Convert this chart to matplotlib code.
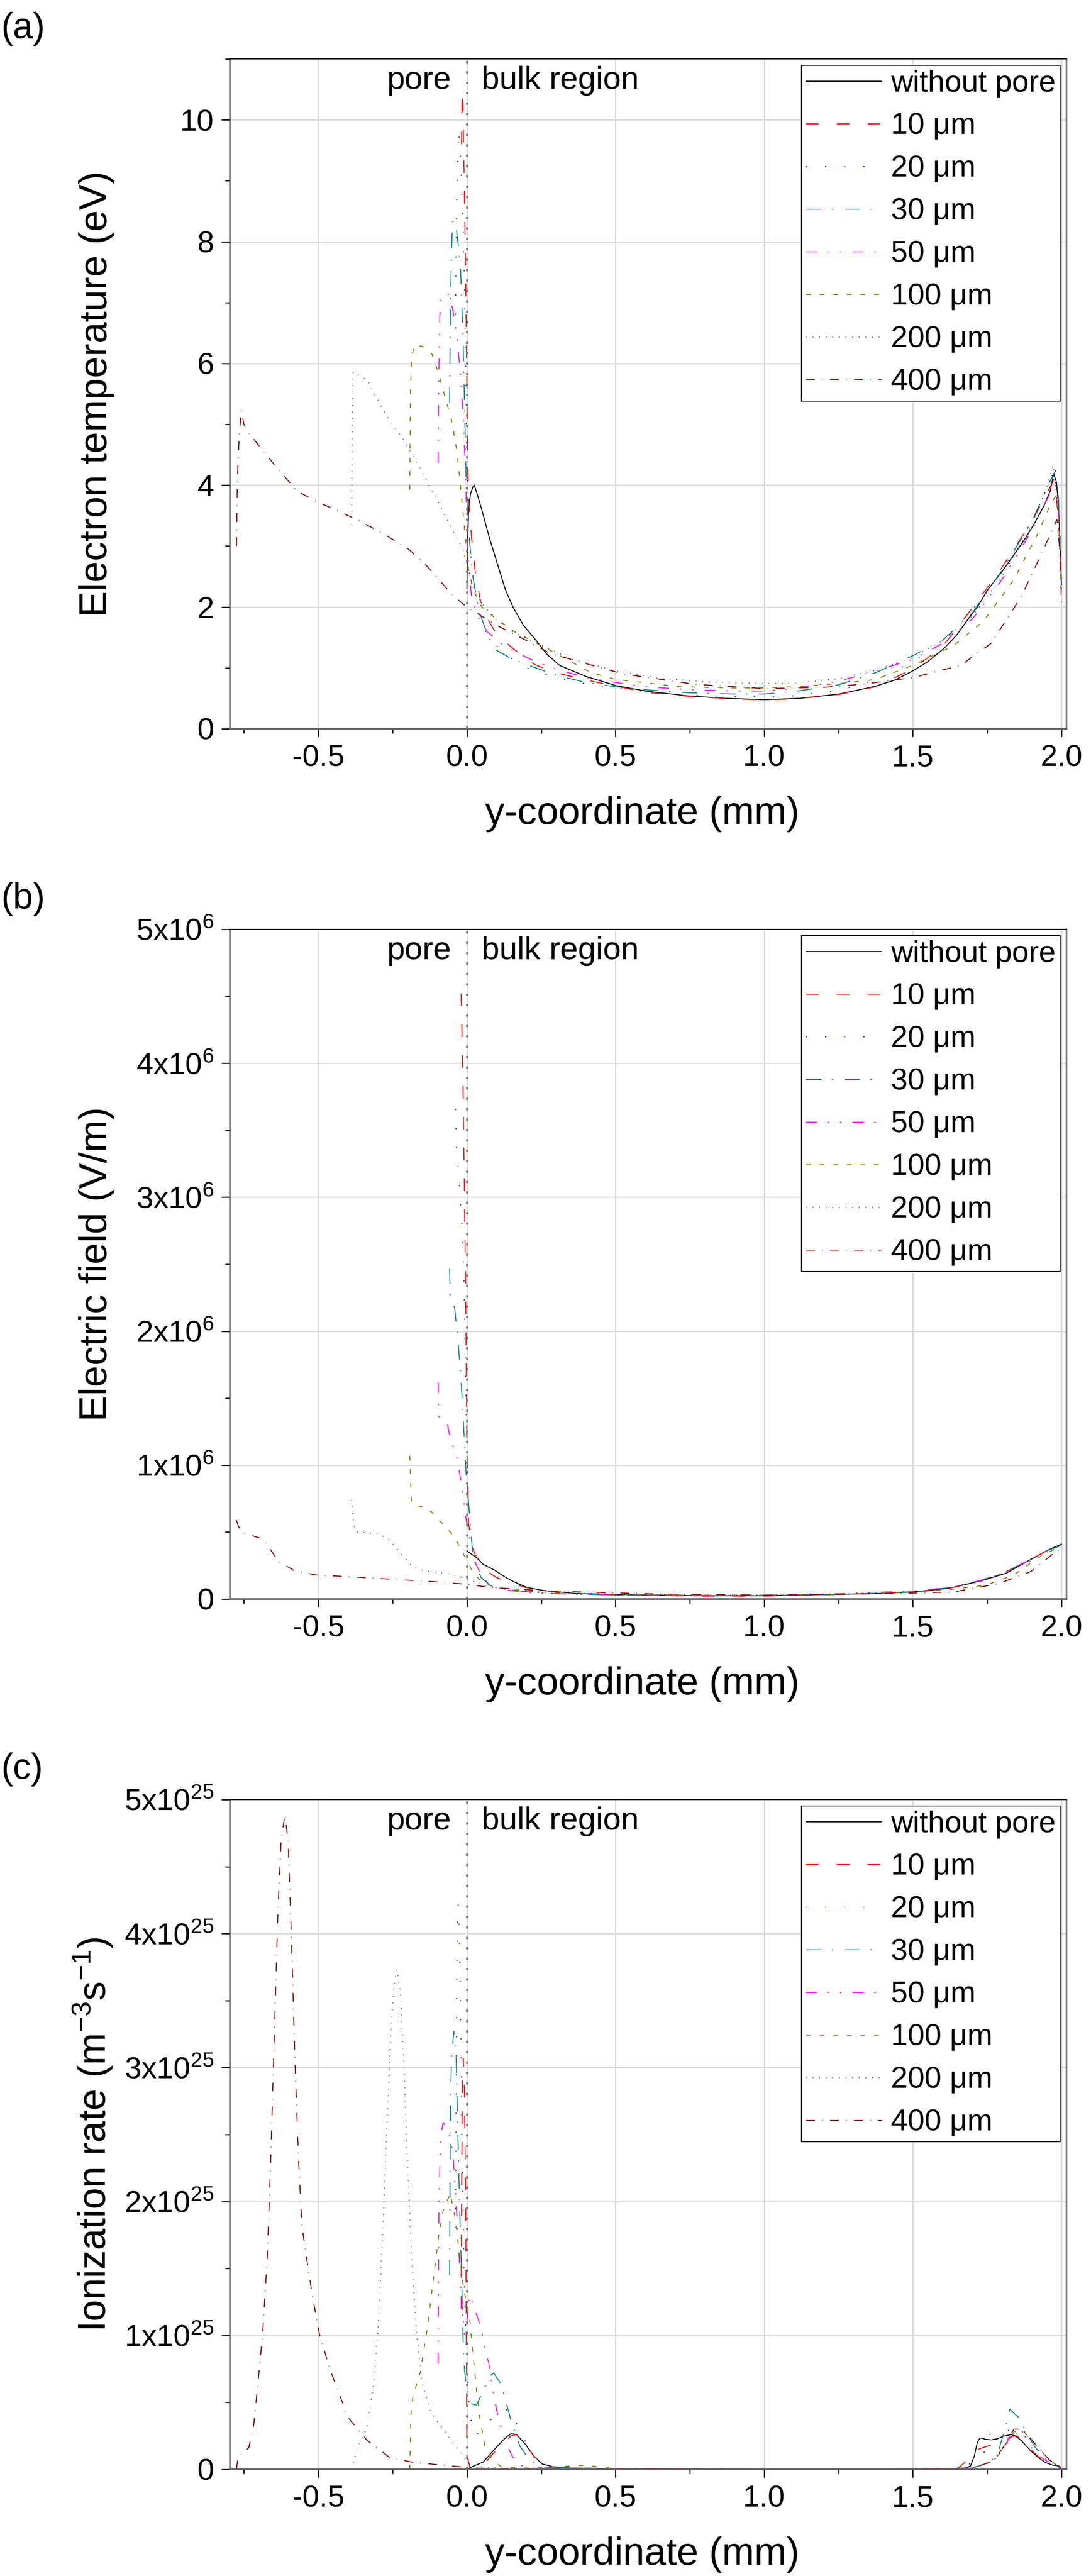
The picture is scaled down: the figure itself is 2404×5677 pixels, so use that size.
import numpy as np
import matplotlib
matplotlib.use('Agg')
import matplotlib.pyplot as plt
from matplotlib.ticker import MultipleLocator, FuncFormatter

plt.rcParams['font.family'] = ['Liberation Sans', 'DejaVu Sans']
plt.rcParams['mathtext.fontset'] = 'custom'
plt.rcParams['mathtext.rm'] = 'Liberation Sans'
plt.rcParams['mathtext.it'] = 'Liberation Sans:italic'
plt.rcParams['lines.scale_dashes'] = False

### series labels
labels = ['without pore', '10 μm', '20 μm', '30 μm', '50 μm', '100 μm', '200 μm', '400 μm']

### (a) electron temperature (eV)
te_x0 = [0.0, 0.002, 0.006, 0.012, 0.02, 0.025, 0.035, 0.05, 0.076, 0.10, 0.13, 0.155, 0.19, 0.233, 0.27, 0.312, 0.40, 0.50, 0.60, 0.742, 0.87, 1.0, 1.12, 1.248, 1.33, 1.375, 1.44, 1.5, 1.55, 1.605, 1.647, 1.686, 1.72, 1.753, 1.80, 1.839, 1.875, 1.91, 1.94, 1.962, 1.974, 1.983, 1.99, 1.995, 2.0]
te_y0 = [2.3, 3.0, 3.6, 3.85, 3.97, 4.0, 3.85, 3.6, 3.13, 2.75, 2.28, 2.0, 1.7, 1.45, 1.22, 1.04, 0.86, 0.71, 0.62, 0.54, 0.50, 0.477, 0.50, 0.566, 0.65, 0.70, 0.80, 0.95, 1.10, 1.32, 1.535, 1.80, 2.02, 2.29, 2.58, 2.85, 3.10, 3.38, 3.65, 3.90, 4.19, 4.05, 3.7, 3.1, 2.37]
te_x10 = [-0.018, -0.016, -0.013, -0.010, -0.007, -0.004, -0.002, 0.0, 0.003, 0.008, 0.017, 0.03, 0.046, 0.07, 0.10, 0.162, 0.23, 0.3, 0.4, 0.5, 0.6, 0.75, 0.9, 1.0, 1.1, 1.25, 1.375, 1.5, 1.6, 1.7, 1.8, 1.9, 1.96, 1.975, 1.99, 2.0]
te_y10 = [9.6, 10.48, 10.1, 9.3, 8.4, 7.4, 6.5, 5.6, 4.25, 3.6, 3.07, 2.5, 2.1, 1.8, 1.55, 1.29, 1.05, 0.92, 0.80, 0.70, 0.60, 0.53, 0.49, 0.47, 0.49, 0.56, 0.69, 0.98, 1.35, 1.98, 2.65, 3.4, 3.95, 4.1, 3.5, 2.3]
te_x20 = [-0.038, -0.036, -0.033, -0.030, -0.028, -0.024, -0.018, -0.013, -0.008, -0.003, 0.0, 0.005, 0.012, 0.025, 0.046, 0.08, 0.139, 0.2, 0.3, 0.4, 0.5, 0.6, 0.75, 0.9, 1.0, 1.1, 1.25, 1.375, 1.5, 1.6, 1.7, 1.8, 1.9, 1.96, 1.975, 1.99, 2.0]
te_y20 = [6.8, 8.2, 8.94, 9.5, 9.83, 9.6, 9.0, 8.26, 7.3, 5.5, 4.4, 3.5, 2.9, 2.3, 1.75, 1.45, 1.19, 1.0, 0.84, 0.74, 0.67, 0.61, 0.55, 0.53, 0.52, 0.54, 0.63, 0.80, 1.10, 1.40, 1.95, 2.60, 3.40, 4.05, 4.25, 3.5, 2.3]
te_x30 = [-0.058, -0.056, -0.052, -0.048, -0.044, -0.037, -0.029, -0.021, -0.013, -0.008, -0.002, 0.003, 0.008, 0.02, 0.04, 0.065, 0.092, 0.15, 0.209, 0.3, 0.4, 0.5, 0.6, 0.75, 0.9, 1.0, 1.1, 1.25, 1.375, 1.5, 1.6, 1.7, 1.8, 1.9, 1.96, 1.98, 1.99, 2.0]
te_y30 = [5.36, 6.6, 7.8, 8.32, 8.35, 8.26, 7.95, 7.52, 6.41, 5.36, 3.93, 3.5, 3.13, 2.5, 1.95, 1.6, 1.31, 1.15, 1.04, 0.88, 0.76, 0.69, 0.64, 0.59, 0.57, 0.57, 0.61, 0.72, 0.92, 1.20, 1.45, 1.9, 2.6, 3.4, 4.05, 4.24, 3.8, 2.4]
te_x50 = [-0.097, -0.094, -0.091, -0.087, -0.078, -0.064, -0.048, -0.033, -0.021, -0.013, -0.005, 0.003, 0.015, 0.035, 0.069, 0.12, 0.18, 0.233, 0.3, 0.4, 0.5, 0.6, 0.75, 0.9, 1.0, 1.1, 1.25, 1.375, 1.5, 1.6, 1.7, 1.8, 1.9, 1.96, 1.98, 1.99, 2.0]
te_y50 = [4.37, 5.9, 6.78, 7.06, 7.12, 7.16, 6.90, 6.41, 5.79, 5.17, 4.30, 2.82, 2.2, 1.85, 1.59, 1.38, 1.22, 1.10, 0.98, 0.84, 0.76, 0.69, 0.64, 0.62, 0.62, 0.66, 0.78, 0.95, 1.14, 1.40, 1.80, 2.45, 3.25, 3.85, 4.0, 3.6, 2.3]
te_x100 = [-0.192, -0.190, -0.186, -0.177, -0.150, -0.118, -0.096, -0.072, -0.053, -0.033, -0.018, -0.006, 0.005, 0.02, 0.05, 0.1, 0.162, 0.279, 0.418, 0.5, 0.717, 0.9, 1.0, 1.1, 1.25, 1.375, 1.5, 1.636, 1.738, 1.84, 1.92, 1.96, 1.98, 1.99, 2.0]
te_y100 = [3.93, 5.5, 6.10, 6.30, 6.28, 6.16, 5.85, 5.42, 5.11, 4.55, 3.81, 3.19, 2.64, 2.3, 2.0, 1.8, 1.59, 1.29, 0.92, 0.81, 0.69, 0.67, 0.67, 0.69, 0.74, 0.81, 1.04, 1.36, 1.77, 2.45, 3.2, 3.65, 3.82, 3.5, 2.2]
te_x200 = [-0.387, -0.386, -0.384, -0.383, -0.336, -0.274, -0.212, -0.150, -0.087, -0.041, -0.013, 0.0, 0.02, 0.05, 0.1, 0.15, 0.256, 0.35, 0.5, 0.65, 0.8, 1.0, 1.1, 1.25, 1.375, 1.5, 1.6, 1.7, 1.8, 1.9, 1.95, 1.972, 1.985, 2.0]
te_y200 = [3.35, 4.5, 5.5, 5.86, 5.73, 5.17, 4.74, 4.21, 3.63, 3.19, 2.95, 2.7, 2.35, 2.05, 1.8, 1.6, 1.36, 1.15, 0.95, 0.83, 0.77, 0.74, 0.75, 0.82, 0.96, 1.17, 1.45, 1.85, 2.5, 3.35, 3.95, 4.33, 3.8, 2.3]
te_x400 = [-0.775, -0.772, -0.766, -0.759, -0.750, -0.734, -0.65, -0.571, -0.5, -0.43, -0.36, -0.28, -0.196, -0.13, -0.064, -0.03, 0.0, 0.05, 0.1, 0.2, 0.279, 0.443, 0.527, 0.767, 1.0, 1.2, 1.33, 1.5, 1.661, 1.763, 1.865, 1.94, 1.985, 1.995, 2.0]
te_y400 = [3.0, 4.1, 4.8, 5.23, 5.0, 4.86, 4.35, 3.90, 3.72, 3.57, 3.41, 3.2, 2.95, 2.65, 2.28, 2.12, 2.0, 1.85, 1.7, 1.45, 1.24, 1.01, 0.90, 0.73, 0.66, 0.68, 0.73, 0.84, 1.04, 1.40, 2.17, 2.95, 3.44, 2.9, 2.05]

### (b) electric field (1e6 V/m)
ef_x0 = [0.0, 0.038, 0.054, 0.093, 0.132, 0.161, 0.202, 0.257, 0.366, 0.503, 0.776, 0.995, 1.255, 1.391, 1.501, 1.624, 1.733, 1.815, 1.897, 1.952, 2.0]
ef_y0 = [0.36, 0.30, 0.26, 0.216, 0.16, 0.126, 0.087, 0.064, 0.042, 0.034, 0.025, 0.025, 0.036, 0.042, 0.053, 0.081, 0.138, 0.194, 0.296, 0.363, 0.41]
ef_x10 = [-0.0195, -0.0133, -0.0078, -0.003, 0.0, 0.006, 0.018, 0.030, 0.06, 0.1, 0.15, 0.2, 0.3, 0.5, 0.8, 1.0, 1.25, 1.5, 1.62, 1.73, 1.81, 1.9, 1.95, 2.0]
ef_y10 = [4.52, 3.86, 2.98, 2.02, 1.11, 0.56, 0.39, 0.32, 0.22, 0.16, 0.12, 0.085, 0.05, 0.03, 0.022, 0.022, 0.034, 0.052, 0.08, 0.14, 0.20, 0.30, 0.36, 0.40]
ef_x20 = [-0.038, -0.035, -0.028, -0.023, -0.016, -0.010, -0.007, -0.003, 0.002, 0.009, 0.02, 0.04, 0.07, 0.1, 0.15, 0.2, 0.3, 0.5, 0.8, 1.0, 1.25, 1.5, 1.62, 1.73, 1.81, 1.9, 1.95, 2.0]
ef_y20 = [3.66, 3.38, 3.16, 3.02, 2.76, 2.39, 2.03, 1.47, 1.0, 0.56, 0.35, 0.2, 0.12, 0.085, 0.065, 0.055, 0.04, 0.03, 0.024, 0.024, 0.034, 0.053, 0.08, 0.14, 0.20, 0.30, 0.36, 0.40]
ef_x30 = [-0.058, -0.056, -0.050, -0.041, -0.031, -0.020, -0.011, -0.003, 0.005, 0.021, 0.048, 0.08, 0.12, 0.2, 0.3, 0.5, 0.8, 1.0, 1.25, 1.5, 1.62, 1.73, 1.81, 1.9, 1.95, 2.0]
ef_y30 = [2.47, 2.26, 2.22, 2.17, 1.95, 1.66, 1.29, 0.96, 0.74, 0.30, 0.16, 0.1, 0.075, 0.055, 0.04, 0.03, 0.025, 0.025, 0.034, 0.055, 0.085, 0.14, 0.20, 0.30, 0.36, 0.40]
ef_x50 = [-0.097, -0.094, -0.066, -0.054, -0.035, -0.023, -0.011, -0.003, 0.005, 0.030, 0.054, 0.08, 0.12, 0.2, 0.3, 0.5, 0.8, 1.0, 1.25, 1.5, 1.62, 1.73, 1.81, 1.9, 1.95, 2.0]
ef_y50 = [1.62, 1.36, 1.31, 1.18, 1.07, 0.92, 0.74, 0.60, 0.50, 0.26, 0.16, 0.1, 0.07, 0.05, 0.04, 0.03, 0.028, 0.03, 0.04, 0.06, 0.085, 0.14, 0.20, 0.30, 0.36, 0.40]
ef_x100 = [-0.192, -0.187, -0.181, -0.150, -0.118, -0.087, -0.052, -0.023, -0.003, 0.023, 0.054, 0.1, 0.15, 0.2, 0.3, 0.5, 0.8, 1.0, 1.25, 1.5, 1.62, 1.747, 1.84, 1.943, 2.0]
ef_y100 = [1.07, 0.74, 0.70, 0.69, 0.65, 0.574, 0.49, 0.39, 0.30, 0.19, 0.12, 0.085, 0.07, 0.06, 0.045, 0.035, 0.03, 0.03, 0.036, 0.05, 0.07, 0.104, 0.18, 0.34, 0.39]
ef_x200 = [-0.387, -0.381, -0.370, -0.298, -0.260, -0.221, -0.182, -0.143, -0.065, -0.010, 0.0, 0.05, 0.1, 0.2, 0.3, 0.5, 0.8, 1.0, 1.25, 1.5, 1.62, 1.73, 1.81, 1.9, 1.95, 2.0]
ef_y200 = [0.74, 0.555, 0.50, 0.49, 0.44, 0.335, 0.24, 0.21, 0.19, 0.16, 0.15, 0.11, 0.085, 0.065, 0.05, 0.037, 0.03, 0.03, 0.04, 0.055, 0.08, 0.13, 0.19, 0.29, 0.35, 0.39]
ef_x400 = [-0.775, -0.770, -0.757, -0.733, -0.687, -0.656, -0.633, -0.579, -0.508, -0.423, -0.267, -0.111, 0.0, 0.08, 0.2, 0.3, 0.64, 1.0, 1.25, 1.5, 1.637, 1.788, 1.897, 1.98, 2.0]
ef_y400 = [0.59, 0.55, 0.50, 0.48, 0.45, 0.354, 0.28, 0.21, 0.18, 0.17, 0.15, 0.13, 0.11, 0.087, 0.07, 0.058, 0.038, 0.03, 0.035, 0.045, 0.053, 0.115, 0.205, 0.352, 0.38]

### (c) ionization rate (1e25 m^-3 s^-1)
ir_x0 = [0.0, 0.015, 0.055, 0.085, 0.114, 0.132, 0.149, 0.167, 0.196, 0.225, 0.254, 0.289, 0.348, 0.5, 1.0, 1.407, 1.651, 1.676, 1.694, 1.707, 1.717, 1.725, 1.733, 1.743, 1.764, 1.784, 1.804, 1.830, 1.845, 1.865, 1.896, 1.926, 1.947, 1.972, 1.993, 2.0]
ir_y0 = [0.0, 0.017, 0.055, 0.13, 0.20, 0.24, 0.266, 0.26, 0.19, 0.10, 0.04, 0.02, 0.01, 0.005, 0.003, 0.003, 0.005, 0.01, 0.025, 0.10, 0.20, 0.233, 0.233, 0.225, 0.22, 0.228, 0.247, 0.259, 0.25, 0.215, 0.14, 0.082, 0.05, 0.031, 0.025, 0.0]
ir_x10 = [-0.019, -0.018, -0.015, -0.012, -0.008, -0.004, -0.002, 0.0, 0.003, 0.01, 0.03, 0.06, 0.085, 0.114, 0.149, 0.167, 0.196, 0.225, 0.254, 0.3, 0.5, 1.0, 1.5, 1.65, 1.69, 1.72, 1.76, 1.80, 1.83, 1.85, 1.87, 1.90, 1.93, 1.95, 1.975, 1.995, 2.0]
ir_y10 = [1.2, 2.0, 2.9, 3.07, 2.8, 2.0, 1.0, 0.09, 0.08, 0.02, 0.03, 0.045, 0.11, 0.18, 0.25, 0.26, 0.19, 0.10, 0.04, 0.015, 0.005, 0.003, 0.003, 0.005, 0.08, 0.15, 0.18, 0.21, 0.245, 0.25, 0.215, 0.14, 0.08, 0.05, 0.03, 0.02, 0.0]
ir_x20 = [-0.038, -0.036, -0.034, -0.032, -0.030, -0.027, -0.024, -0.020, -0.017, -0.013, -0.009, -0.003, 0.003, 0.01, 0.03, 0.06, 0.1, 0.14, 0.17, 0.22, 0.27, 0.35, 0.5, 1.0, 1.5, 1.65, 1.70, 1.739, 1.757, 1.80, 1.84, 1.87, 1.90, 1.93, 1.96, 1.985, 2.0]
ir_y20 = [1.8, 2.85, 3.66, 4.08, 4.22, 4.1, 3.84, 3.22, 2.48, 1.93, 1.38, 1.01, 0.64, 0.4, 0.25, 0.32, 0.42, 0.45, 0.33, 0.10, 0.02, 0.01, 0.005, 0.003, 0.003, 0.005, 0.05, 0.12, 0.26, 0.28, 0.30, 0.26, 0.2, 0.13, 0.07, 0.03, 0.0]
ir_x30 = [-0.058, -0.056, -0.052, -0.044, -0.036, -0.030, -0.024, -0.017, -0.011, -0.005, 0.0, 0.0146, 0.032, 0.041, 0.058, 0.079, 0.090, 0.114, 0.137, 0.149, 0.179, 0.208, 0.243, 0.3, 0.5, 1.0, 1.5, 1.7, 1.76, 1.79, 1.81, 1.826, 1.84, 1.86, 1.88, 1.91, 1.94, 1.97, 1.99, 2.0]
ir_y30 = [1.45, 2.48, 3.07, 3.27, 3.07, 2.48, 1.93, 1.38, 0.82, 0.68, 0.60, 0.49, 0.48, 0.52, 0.60, 0.70, 0.72, 0.64, 0.46, 0.36, 0.17, 0.08, 0.02, 0.01, 0.005, 0.003, 0.003, 0.01, 0.05, 0.15, 0.30, 0.45, 0.42, 0.38, 0.28, 0.17, 0.09, 0.04, 0.02, 0.0]
ir_x50 = [-0.097, -0.094, -0.088, -0.080, -0.068, -0.056, -0.045, -0.033, -0.021, -0.009, 0.0, 0.0088, 0.021, 0.050, 0.061, 0.073, 0.090, 0.108, 0.131, 0.155, 0.178, 0.22, 0.3, 0.5, 1.0, 1.5, 1.7, 1.767, 1.80, 1.828, 1.86, 1.90, 1.93, 1.96, 1.985, 2.0]
ir_y50 = [0.79, 2.0, 2.48, 2.59, 2.55, 2.48, 2.30, 1.86, 1.38, 1.01, 1.1, 1.30, 1.23, 1.04, 0.89, 0.80, 0.55, 0.36, 0.19, 0.09, 0.03, 0.01, 0.005, 0.003, 0.003, 0.003, 0.01, 0.06, 0.15, 0.24, 0.23, 0.16, 0.09, 0.05, 0.02, 0.0]
ir_x100 = [-0.192, -0.188, -0.181, -0.157, -0.134, -0.111, -0.095, -0.080, -0.056, -0.037, -0.025, -0.013, 0.0, 0.0088, 0.021, 0.032, 0.044, 0.061, 0.085, 0.115, 0.2, 0.4, 0.5, 1.0, 1.5, 1.7, 1.77, 1.80, 1.84, 1.87, 1.90, 1.93, 1.96, 1.985, 2.0]
ir_y100 = [0.0, 0.42, 0.55, 0.72, 1.04, 1.45, 1.74, 1.93, 2.06, 1.85, 1.60, 1.38, 1.23, 1.14, 0.85, 0.60, 0.38, 0.17, 0.07, 0.02, 0.01, 0.03, 0.005, 0.003, 0.003, 0.01, 0.06, 0.14, 0.28, 0.29, 0.22, 0.14, 0.07, 0.03, 0.0]
ir_x200 = [-0.387, -0.368, -0.337, -0.313, -0.298, -0.282, -0.267, -0.255, -0.243, -0.235, -0.224, -0.212, -0.200, -0.185, -0.169, -0.150, -0.119, -0.080, -0.041, -0.013, 0.0, 0.05, 0.1, 0.2, 0.5, 1.0, 1.5, 1.7, 1.77, 1.80, 1.84, 1.87, 1.90, 1.93, 1.96, 1.985, 2.0]
ir_y200 = [0.0, 0.16, 0.31, 0.64, 1.08, 1.82, 2.66, 3.29, 3.66, 3.73, 3.58, 3.03, 2.30, 1.56, 1.01, 0.64, 0.42, 0.30, 0.18, 0.11, 0.05, 0.02, 0.01, 0.005, 0.003, 0.003, 0.003, 0.01, 0.06, 0.14, 0.26, 0.28, 0.22, 0.14, 0.07, 0.03, 0.0]
ir_x400 = [-0.775, -0.770, -0.734, -0.718, -0.703, -0.687, -0.672, -0.660, -0.648, -0.636, -0.625, -0.612, -0.601, -0.590, -0.578, -0.566, -0.555, -0.538, -0.520, -0.496, -0.461, -0.399, -0.337, -0.259, -0.181, -0.103, -0.025, 0.0, 0.2, 0.5, 1.0, 1.5, 1.7, 1.77, 1.80, 1.84, 1.87, 1.90, 1.93, 1.96, 1.985, 2.0]
ir_y400 = [0.0, 0.09, 0.16, 0.31, 0.64, 1.01, 1.56, 2.30, 3.22, 4.14, 4.69, 4.89, 4.68, 3.95, 3.03, 2.30, 1.82, 1.56, 1.30, 1.01, 0.75, 0.385, 0.22, 0.087, 0.053, 0.036, 0.02, 0.01, 0.005, 0.003, 0.003, 0.003, 0.01, 0.06, 0.15, 0.30, 0.30, 0.22, 0.14, 0.07, 0.03, 0.0]

colors = ['black', '#FF0000', '#0000FF', '#008080', '#FF00FF', '#808000', '#000080', '#800000']
dashes = ['-', (0, (6.7, 9.6)), (0, (0.6, 9.5)), (0, (8.2, 5.5, 0.6, 6.1)),
          (0, (5.7, 5.7, 0.8, 5.7, 0.8, 6.0)), (0, (2.5, 4.7)), (0, (0.3, 3.2)),
          (0, (4.7, 3.8, 0.3, 3.9))]

panels = [
    ('(a)', 'Electron temperature (eV)', 1.0,
     [te_x0, te_x10, te_x20, te_x30, te_x50, te_x100, te_x200, te_x400],
     [te_y0, te_y10, te_y20, te_y30, te_y50, te_y100, te_y200, te_y400]),
    ('(b)', 'Electric field (V/m)', 1e6,
     [ef_x0, ef_x10, ef_x20, ef_x30, ef_x50, ef_x100, ef_x200, ef_x400],
     [ef_y0, ef_y10, ef_y20, ef_y30, ef_y50, ef_y100, ef_y200, ef_y400]),
    ('(c)', 'Ionization rate (m$^{-3}$s$^{-1}$)', 1e25,
     [ir_x0, ir_x10, ir_x20, ir_x30, ir_x50, ir_x100, ir_x200, ir_x400],
     [ir_y0, ir_y10, ir_y20, ir_y30, ir_y50, ir_y100, ir_y200, ir_y400]),
]

W, H = 2404, 5677
fig = plt.figure(figsize=(W / 300, H / 300), dpi=300)
tops = [130, 2048, 3966]
ax_h = 1476

def sci_fmt(exp):
    def f(v, pos):
        if abs(v) < 1e-30:
            return '0'
        return '%dx10$^{%d}$' % (round(v / 10**exp), exp)
    return FuncFormatter(f)

for i, (tag, ylab, scale, xs, ys) in enumerate(panels):
    ax = fig.add_axes([506 / W, 1 - (tops[i] + ax_h) / H, (2350 - 506) / W, ax_h / H])
    for x, y, c, ls, lab in zip(xs, ys, colors, dashes, labels):
        ax.plot(x, np.array(y) * scale, color=c, ls=ls, lw=0.5, label=lab)
    ax.axvline(0, color='#6a6a6a', lw=0.9, ls=(0, (1.2, 4.3)), zorder=3)
    ax.set_xlim(-0.798, 2.017)
    ax.xaxis.set_major_locator(MultipleLocator(0.5))
    ax.xaxis.set_minor_locator(MultipleLocator(0.25))
    ax.xaxis.set_major_formatter(FuncFormatter(lambda v, p: '%.1f' % v))
    if i == 0:
        ax.set_ylim(0, 11)
        ax.yaxis.set_major_locator(MultipleLocator(2))
        ax.yaxis.set_minor_locator(MultipleLocator(1))
    else:
        ax.set_ylim(0, 5 * scale)
        ax.yaxis.set_major_locator(MultipleLocator(scale))
        ax.yaxis.set_minor_locator(MultipleLocator(scale / 2))
        ax.yaxis.set_major_formatter(sci_fmt(6 if i == 1 else 25))
    ax.grid(True, which='major', color='#d6d6d6', lw=0.6)
    ax.set_axisbelow(True)
    ax.tick_params(which='major', direction='out', length=4.3, width=0.6, pad=4, labelsize=16)
    ax.tick_params(which='minor', direction='out', length=2.4, width=0.6)
    ax.spines['left'].set(color='black', lw=0.6)
    ax.spines['top'].set(color='black', lw=0.5)
    ax.spines['bottom'].set(color='#606060', lw=0.9)
    ax.spines['right'].set(color='#808080', lw=0.9)

    ax.set_xlabel('y-coordinate (mm)', fontsize=20.5)
    ax.xaxis.set_label_coords(0.493, -0.1)
    ax.set_ylabel(ylab, fontsize=20.5)
    ax.yaxis.set_label_coords(-0.137, 0.5)

    trans = ax.get_xaxis_transform()
    ax.text(-0.053, 0.99, 'pore', transform=trans, ha='right', va='top', fontsize=17)
    ax.text(0.049, 0.99, 'bulk region', transform=trans, ha='left', va='top', fontsize=17)

    leg = ax.legend(loc='upper right', fontsize=16, fancybox=False, edgecolor='black',
                    framealpha=1, borderaxespad=0.21, borderpad=0.15, labelspacing=0.48,
                    handlelength=2.5, handletextpad=0.3)
    leg.get_frame().set_linewidth(0.5)

    fig.text(2 / W, 1 - (tops[i] - 104) / H, tag, ha='left', va='top', fontsize=19)

fig.savefig('out.png', dpi=300)
